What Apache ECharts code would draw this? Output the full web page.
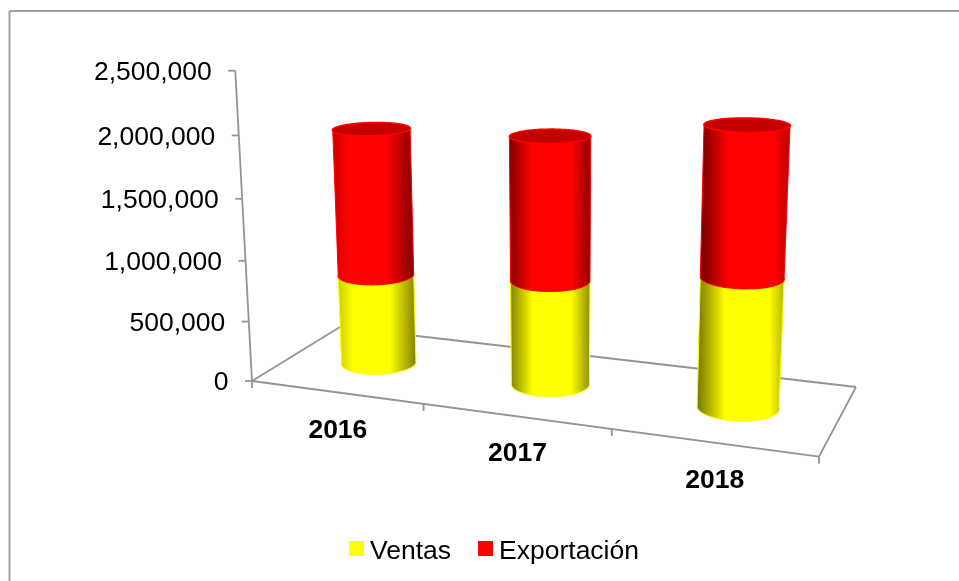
<!DOCTYPE html>
<html>
<head>
<meta charset="utf-8">
<style>
  html, body { margin: 0; padding: 0; background: #fff; }
  #chart { width: 959px; height: 581px; }
</style>
<script src="https://cdn.jsdelivr.net/npm/echarts@6/dist/echarts.min.js"></script>
</head>
<body>
<div id="chart"></div>
<script>
const categories = ['2016', '2017', '2018'];
const ventas = [755000, 850000, 1020000];
const exportacion = [1207000, 1145000, 1147000];
const yTicks = [0, 500000, 1000000, 1500000, 2000000, 2500000];

// Camera of the fake 3D box: floor corners on screen and vanishing point of the verticals
const floor = { o: [252, 381], x: [819, 456.7], z: [340, 327], xz: [856, 387] };
const vanish = [558, 6062];
const wallTop = 70.7;
// Screen half sizes of a cylinder section, measured at the middle of the floor
const cylA = 39;
const cylB = 12.5;
// Side shading per cylinder: dark factor left, flat start, flat end, dark factor right
const shades = [
  [0.8, 0.2, 0.66, 0.5],
  [0.5, 0.28, 0.76, 0.55],
  [0.45, 0.32, 0.82, 0.7]
];

const font = 'Liberation Sans, Arial, sans-serif';
const axisColor = '#949494';

// unit square -> floor quad
const dx1 = floor.x[0] - floor.xz[0], dx2 = floor.z[0] - floor.xz[0];
const dy1 = floor.x[1] - floor.xz[1], dy2 = floor.z[1] - floor.xz[1];
const sx = floor.o[0] - floor.x[0] + floor.xz[0] - floor.z[0];
const sy = floor.o[1] - floor.x[1] + floor.xz[1] - floor.z[1];
const det = dx1 * dy2 - dx2 * dy1;
const hg = (sx * dy2 - dx2 * sy) / det;
const hh = (dx1 * sy - sx * dy1) / det;
const ha = floor.x[0] - floor.o[0] + hg * floor.x[0];
const hb = floor.z[0] - floor.o[0] + hh * floor.z[0];
const hd = floor.x[1] - floor.o[1] + hg * floor.x[1];
const he = floor.z[1] - floor.o[1] + hh * floor.z[1];
const hk = (wallTop - floor.o[1]) / (vanish[1] - wallTop);

// u: 0..3 along the categories, h: 0..1 of the value axis, t: 0..1 depth
function project(u, h, t) {
  const s = u / categories.length;
  const w = hg * s + hh * t + 1 + h * hk;
  return [
    (ha * s + hb * t + floor.o[0] + h * hk * vanish[0]) / w,
    (hd * s + he * t + floor.o[1] + h * hk * vanish[1]) / w
  ];
}

// floor vectors that come out horizontal and vertical on screen
const eps = 0.01;
const c0 = project(1.5, 0, 0.5), cu = project(1.5 + eps, 0, 0.5), ct = project(1.5, 0, 0.5 + eps);
const j00 = (cu[0] - c0[0]) / eps, j01 = (ct[0] - c0[0]) / eps;
const j10 = (cu[1] - c0[1]) / eps, j11 = (ct[1] - c0[1]) / eps;
const jd = j00 * j11 - j01 * j10;
const e1 = [j11 / jd * cylA, -j10 / jd * cylA];
const e2 = [-j01 / jd * cylB, j00 / jd * cylB];

function section(u, h, from, to, n) {
  const pts = [];
  for (let i = 0; i <= n; i++) {
    const a = from + (to - from) * i / n;
    const c = Math.cos(a), s = Math.sin(a);
    pts.push(project(u + c * e1[0] + s * e2[0], h, 0.5 + c * e1[1] + s * e2[1]));
  }
  return pts;
}

function shadeGradient(rgb, i) {
  const sh = shades[i];
  const col = f => 'rgb(' + rgb.map(v => Math.round(v * f)).join(',') + ')';
  return new echarts.graphic.LinearGradient(0, 0, 1, 0, [
    { offset: 0, color: col(sh[0]) },
    { offset: sh[1], color: col(1) },
    { offset: sh[2], color: col(1) },
    { offset: 1, color: col(sh[3]) }
  ]);
}

function toBox(api, params, cat, val) {
  const p = api.coord([cat, val]);
  const r = params.coordSys;
  return { u: (p[0] - r.x) / r.width * categories.length, h: (r.y + r.height - p[1]) / r.height };
}

function makeCylinder(rgb, edge, withCap) {
  return function (params, api) {
    const i = api.value(0);
    const low = toBox(api, params, i, api.value(1));
    const high = toBox(api, params, i, api.value(2));
    const bottom = section(low.u, low.h, 0, Math.PI, 40);
    const top = section(high.u, high.h, Math.PI, 0, 40);
    const children = [{
      type: 'polygon',
      shape: { points: bottom.concat(top) },
      style: { fill: shadeGradient(rgb, i), stroke: edge, lineWidth: 1 }
    }];
    if (withCap) {
      children.push({
        type: 'polygon',
        shape: { points: section(high.u, high.h, 0, Math.PI * 2, 80) },
        style: { fill: '#c40000', stroke: edge, lineWidth: 1.5 }
      });
    }
    return { type: 'group', children: children };
  };
}

function line(a, b) {
  return {
    type: 'line',
    shape: { x1: a[0], y1: a[1], x2: b[0], y2: b[1] },
    style: { stroke: axisColor, lineWidth: 1.8 }
  };
}

function label(text, x, y, align, weight) {
  return {
    type: 'text',
    style: {
      text: text, x: x, y: y, align: align, verticalAlign: 'middle',
      fontFamily: font, fontSize: 26.5, fontWeight: weight, fill: '#000'
    }
  };
}

function renderFrame(params, api) {
  const n = categories.length;
  const kids = [
    line(project(0, 0, 0), project(0, 1, 0)),
    line(project(0, 0, 0), project(n, 0, 0)),
    line(project(0, 0, 0), project(0, 0, 1)),
    line(project(0, 0, 1), project(n, 0, 1)),
    line(project(n, 0, 0), project(n, 0, 1))
  ];
  yTicks.forEach(v => {
    const p = project(0, toBox(api, params, 0, v).h, 0);
    kids.push(line([p[0] - 7, p[1]], p));
    kids.push(label(v.toLocaleString('en-US'), p[0] - 23.5, p[1] + 2, 'right', 'normal'));
  });
  for (let i = 0; i <= n; i++) {
    const p = project(i, 0, 0);
    kids.push(line(p, [p[0], p[1] + 7]));
  }
  categories.forEach((c, i) => {
    const p = project(toBox(api, params, i, 0).u, 0, 0);
    kids.push(label(c, p[0] + 2, p[1] + 38, 'center', 'bold'));
  });
  return { type: 'group', children: kids };
}

const chart = echarts.init(document.getElementById('chart'), null, { renderer: 'canvas' });

chart.setOption({
  animation: false,
  backgroundColor: '#fff',
  graphic: [
    { type: 'line', shape: { x1: 9.5, y1: 11, x2: 959, y2: 11 }, style: { stroke: '#a0a0a0', lineWidth: 2 } },
    { type: 'line', shape: { x1: 9.5, y1: 11, x2: 9.5, y2: 581 }, style: { stroke: '#a0a0a0', lineWidth: 2 } }
  ],
  grid: { left: 252, top: 71, width: 567, height: 310 },
  xAxis: { type: 'category', data: categories, show: false },
  yAxis: { type: 'value', min: 0, max: 2500000, interval: 500000, show: false },
  legend: {
    data: ['Ventas', 'Exportación'],
    left: 344,
    top: 533,
    icon: 'rect',
    itemWidth: 15,
    itemHeight: 15,
    itemGap: 27,
    formatter: '{a|{name}}',
    textStyle: {
      rich: {
        a: { fontFamily: font, fontSize: 26.5, color: '#000', padding: [6, 0, 0, 1] }
      }
    }
  },
  series: [
    {
      type: 'custom',
      name: 'ejes',
      silent: true,
      clip: false,
      data: [[categories[0], 0]],
      encode: { x: 0, y: 1 },
      renderItem: renderFrame
    },
    {
      type: 'custom',
      name: 'Ventas',
      clip: false,
      itemStyle: { color: '#ffff00' },
      data: categories.map((c, i) => [c, 0, ventas[i]]),
      encode: { x: 0, y: 2 },
      renderItem: makeCylinder([255, 255, 0], '#ffff00', false)
    },
    {
      type: 'custom',
      name: 'Exportación',
      clip: false,
      itemStyle: { color: '#ff0000' },
      data: categories.map((c, i) => [c, ventas[i], ventas[i] + exportacion[i]]),
      encode: { x: 0, y: 2 },
      renderItem: makeCylinder([255, 0, 0], '#ff0000', true)
    }
  ]
});
</script>
</body>
</html>
